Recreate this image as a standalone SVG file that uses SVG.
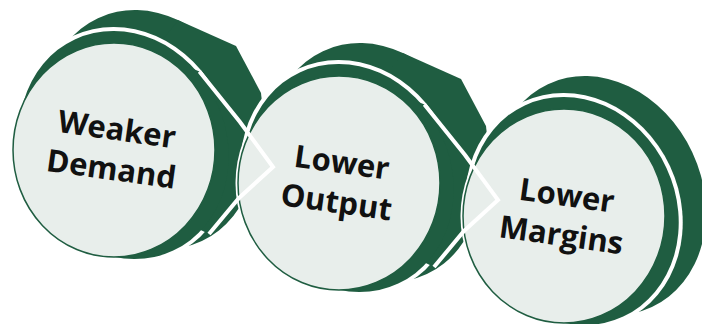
<svg xmlns="http://www.w3.org/2000/svg" width="702" height="324" viewBox="0 0 702 324">
<defs>
<style>
.g{fill:#1f5d41}
.w{fill:#ffffff}
.face{fill:#e8eeeb;stroke:#1f5d41;stroke-width:1.5}
.lbl{font-family:"Open Sans","DejaVu Sans",sans-serif;font-weight:700;font-size:31px;fill:#111111;text-anchor:middle}
.chev{fill:none;stroke:#ffffff;stroke-width:4;stroke-linejoin:miter}
</style>
<ellipse id="back" cx="30" cy="-3" rx="102" ry="123" transform="translate(10,-5) rotate(-25)"/>
<ellipse id="halo" cx="0" cy="0" rx="106" ry="120.5" transform="translate(10,-5) rotate(-25)"/>
<ellipse id="ring" cx="0" cy="0" rx="102" ry="116.5" transform="translate(10,-5) rotate(-25)"/>
<path id="bconn" d="M64.4,-129.7 L122,-104 L147,-57 L152,-10 L60,-10 L40,-100 Z"/>
<path id="conn" d="M85.4,-78.4 L126,-28 L159,17 L125,48 L95,84 L70,72 L40,-40 L70,-85 Z"/>
</defs>
<rect width="702" height="324" fill="#ffffff"/>
<g id="node-weaker-demand" transform="translate(114,150)">
<use href="#back" class="g"/>
<use href="#bconn" class="g"/>
<use href="#halo" class="w"/>
<ellipse rx="103.5" ry="109.5" class="w"/>
<use href="#conn" class="g"/>
<use href="#ring" class="g"/>
<ellipse rx="101" ry="107" class="face"/>
<g transform="rotate(8)"><text class="lbl" x="0" y="-10">Weaker</text><text class="lbl" x="0" y="30">Demand</text></g>
</g>
<g id="node-lower-output" transform="translate(339,183)">
<use href="#back" class="g"/>
<use href="#bconn" class="g"/>
<use href="#halo" class="w"/>
<ellipse rx="103.5" ry="109.5" class="w"/>
<use href="#conn" class="g"/>
<use href="#ring" class="g"/>
<ellipse rx="101" ry="107" class="face"/>
<g transform="rotate(8)"><text class="lbl" x="0" y="-10">Lower</text><text class="lbl" x="0" y="30">Output</text></g>
</g>
<g id="node-lower-margins" transform="translate(564,216)">
<use href="#back" class="g"/>
<use href="#halo" class="w"/>
<ellipse rx="103.5" ry="109.5" class="w"/>
<use href="#ring" class="g"/>
<ellipse rx="101" ry="107" class="face"/>
<g transform="rotate(8)"><text class="lbl" x="0" y="-10">Lower</text><text class="lbl" x="0" y="30">Margins</text></g>
</g>
<g id="connectors">
<polyline class="chev" points="199.4,71.6 240,122 273,167 239,198 209,234"/>
<polyline class="chev" points="424.4,104.6 465,155 498,200 464,231 434,267"/>
</g>
</svg>
